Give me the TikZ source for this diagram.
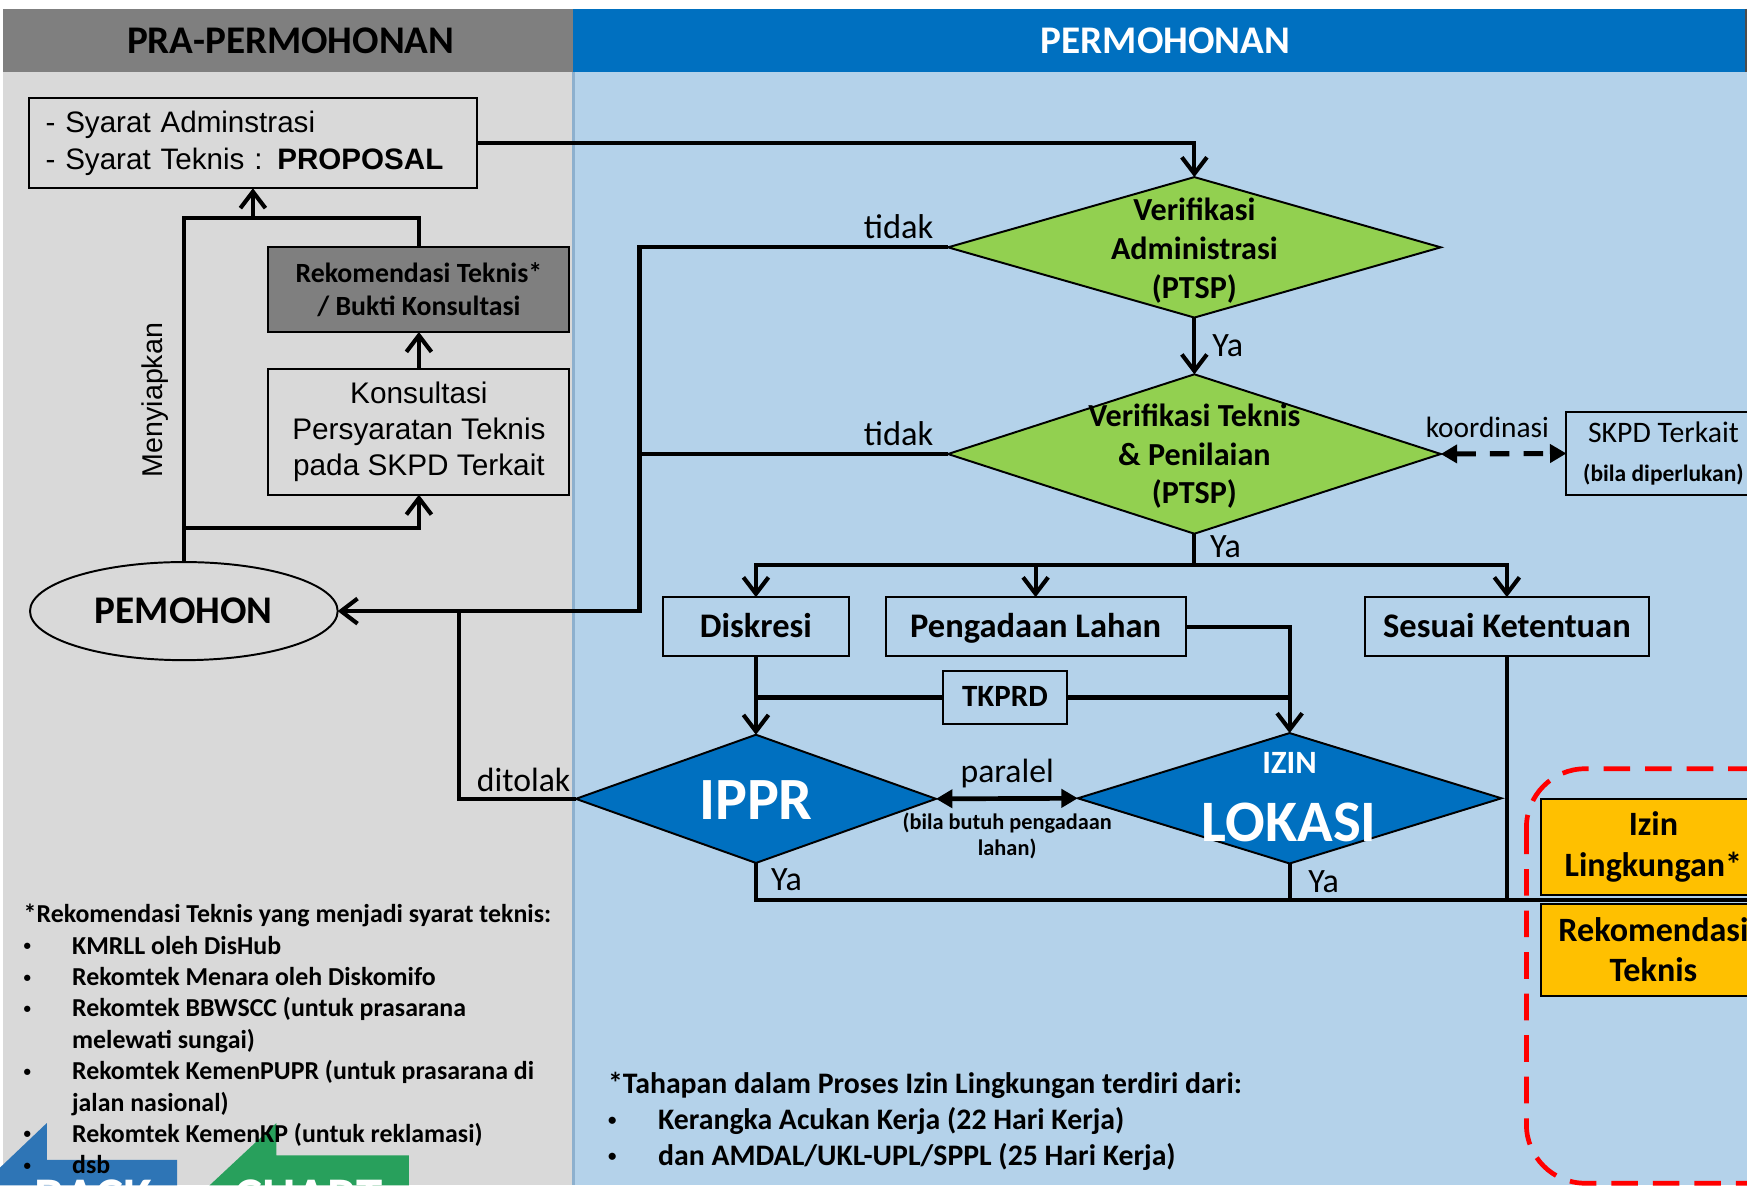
\documentclass[tikz,border=0pt]{standalone}
\usepackage{fontspec}
\setmainfont{Carlito}
\newfontfamily\arialf{Liberation Sans}
\usetikzlibrary{arrows.meta,shapes.geometric,calc}
\definecolor{hdrgray}{HTML}{7F7F7F}
\definecolor{bodygray}{HTML}{D9D9D9}
\definecolor{hdrblue}{HTML}{0070C0}
\definecolor{bodyblue}{RGB}{180,210,234}
\definecolor{edgeblue}{RGB}{141,176,206}
\definecolor{vgreen}{HTML}{92D050}
\definecolor{dblue}{HTML}{0070C0}
\definecolor{orng}{HTML}{FFC000}
\definecolor{backblue}{HTML}{2E75B6}
\definecolor{chartgreen}{RGB}{40,160,92}
\newcommand\setfs[2]{\fontsize{#1}{#2}\selectfont}
\newcommand\smbulA{{\setfs{3.8}{4}\raisebox{0.9pt}{\textbullet}}}
\newcommand\smbulB{{\setfs{4.3}{4.5}\raisebox{1pt}{\textbullet}}}
\tikzset{
  box/.style={draw=black, line width=0.5pt, rectangle, inner sep=0pt, outer sep=0pt, align=center},
  conn/.style={line width=1.05pt},
  arr/.style={conn, -{Straight Barb[length=4.2pt,width=6.4pt]}},
  parr/.style={line width=1.2pt, {Triangle[length=4.2pt,width=4.6pt]}-{Triangle[length=4.2pt,width=4.6pt]}},
  karr/.style={line width=1.3pt, dash pattern=on 5pt off 3.6pt, {Triangle[length=4.2pt,width=4.6pt]}-{Triangle[length=4.2pt,width=4.6pt]}},
  dia/.style={diamond, draw=black, line width=0.5pt, inner sep=0pt, outer sep=0pt},
  lbl/.style={inner sep=0pt, font=\setfs{8.7}{10}},
  btxt/.style={font=\bfseries\setfs{8.8}{10}, text height=7.4pt, text depth=2pt},
}
\begin{document}
\begin{tikzpicture}[x=0.01cm,y=-0.01cm]
\useasboundingbox (0,0) rectangle (1568,1064);
\clip (0,0) rectangle (1568,1064);
% backgrounds
\fill[white] (0,0) rectangle (1568,1064);
\fill[bodygray] (3,8) rectangle (514,1064);
\fill[hdrgray] (3,8) rectangle (514,65);
\fill[bodyblue] (514,8) rectangle (1568,1064);
\fill[hdrblue] (514,8) rectangle (1568,65);
\draw[edgeblue, line width=0.8pt] (514.5,65) -- (514.5,1064);
\draw[black!70, line width=0.6pt] (1567,8) -- (1567,65);
\node[font=\bfseries\setfs{10}{12}] (h1) at (261,37) {PRA-PERMOHONAN};
\node[font=\bfseries\setfs{10}{12}, text=white] (h2) at (1046,37) {PERMOHONAN};

% BACK / CHART arrows (partly visible at the lower edge)
\fill[backblue] (0,1048) -- (42,1008) -- (42,1041) -- (159,1041) -- (159,1064) -- (0,1064) -- cycle;
\fill[chartgreen] (188,1064) -- (248,1008) -- (248,1037) -- (367,1037) -- (367,1064) -- cycle;
\node[text=white, font=\bfseries\setfs{13.5}{16}, anchor=base] (back) at (84,1090) {BACK};
\node[text=white, font=\bfseries\setfs{13.5}{16}, anchor=base] (chart) at (277,1090) {CHART};

% left column
\node[box, minimum width=4.02cm, minimum height=0.81cm, text width=3.72cm, align=left, font=\arialf\setfs{7.55}{9.6}] (syarat) at (227,128.5) {- Syarat Adminstrasi\\- Syarat Teknis : \textbf{PROPOSAL}};
\node[box, fill=hdrgray, minimum width=2.70cm, minimum height=0.76cm, font=\bfseries\setfs{7.1}{8.5}] (rek) at (376,260) {Rekomendasi Teknis*\\/ Bukti Konsultasi};
\node[box, minimum width=2.70cm, minimum height=1.13cm, font=\arialf\setfs{7.6}{9.1}] (kons) at (376,387.5) {Konsultasi\\Persyaratan Teknis\\pada SKPD Terkait};
\node[ellipse, draw=black, line width=0.5pt, inner sep=0pt, outer sep=0pt, minimum width=2.76cm, minimum height=0.88cm, font=\bfseries\setfs{10}{12}] (pem) at (165,548.5) {PEMOHON};
\node[rotate=90, font=\arialf\setfs{7.3}{9}] (meny) at (139,359) {Menyiapkan};

\coordinate (mt) at (165,196);
\coordinate (mk) at (165,474);
\draw[conn] (pem.north) -- (mt) -| (rek.north);
\draw[arr] (syarat.south |- mt) -- (syarat.south);
\draw[arr] (mk) -| (kons.south);
\draw[arr] (kons.north) -- (rek.south);

% decisions
\node[dia, fill=vgreen, minimum width=4.42cm, minimum height=1.26cm] (va) at (1072,222) {};
\node[font=\bfseries\setfs{8.2}{10}, align=center] (vat) at (1072,225) {Verifikasi\\Administrasi\\(PTSP)};
\node[dia, fill=vgreen, minimum width=4.42cm, minimum height=1.43cm] (vt) at (1072,407.5) {};
\node[font=\bfseries\setfs{8.2}{9.8}, align=center] (vtt) at (1072,409.5) {Verifikasi Teknis\\\& Penilaian\\(PTSP)};

\node[box, minimum width=1.74cm, minimum height=0.74cm] (skpd) at (1493,407) {{\setfs{7.6}{8}SKPD Terkait}\\[-2pt]{\bfseries\setfs{6}{7}(bila diperlukan)}};

\draw[arr] (syarat.east) -| (va.north);
\draw[arr] (va.south) -- (vt.north);
\node[lbl] (ya1) at (1102,310) {Ya};

\coordinate (jt) at (574,548.5);
\coordinate (jd) at (412,548.5);
\draw[arr] (va.west) -| (jt) -- (pem.east);
\draw[conn] (vt.west) -- (vt.west -| jt);
\node[lbl, font=\setfs{8.8}{10}] (t1) at (806.5,203) {tidak};
\node[lbl, font=\setfs{8.8}{10}] (t2) at (806.5,389) {tidak};

\draw[karr] (vt.east) -- (skpd.west);
\node[lbl, font=\setfs{7.5}{9}] (koor) at (1335,384) {koordinasi};

% second level
\node[box, btxt, minimum width=1.67cm, minimum height=0.53cm] (disk) at (678.5,562.5) {Diskresi};
\node[box, btxt, minimum width=2.69cm, minimum height=0.53cm] (peng) at (929.5,562.5) {Pengadaan Lahan};
\node[box, btxt, minimum width=2.55cm, minimum height=0.53cm] (sesuai) at (1352.5,562.5) {Sesuai Ketentuan};
\node[box, font=\bfseries\setfs{7.9}{9}, text height=6.2pt, text depth=1.6pt, minimum width=1.12cm, minimum height=0.48cm] (tkprd) at (902,626) {TKPRD};

\coordinate (ys) at (1072,507.5);
\draw[conn] (vt.south) -- (ys);
\draw[arr] (ys) -| (disk.north);
\draw[arr] (ys) -| (peng.north);
\draw[arr] (ys) -| (sesuai.north);
\node[lbl] (ya2) at (1100,491) {Ya};

\node[dia, fill=dblue, minimum width=3.23cm, minimum height=1.15cm] (ippr) at (678.5,717) {};
\node[text=white, font=\bfseries\setfs{15.3}{18}] (ipprt) at (678.5,718) {IPPR};
\node[dia, fill=dblue, minimum width=3.8cm, minimum height=1.17cm] (lok) at (1157.5,716.5) {};
\node[text=white, font=\bfseries\setfs{8.3}{10}] (izt) at (1157.5,685) {IZIN};
\node[text=white, font=\bfseries\setfs{15}{18}] (lokt) at (1157,738) {LOKASI};

\draw[arr] (disk.south) -- (ippr.north);
\draw[arr] (peng.east) -| (lok.north);
\draw[conn] (tkprd.west) -- (tkprd.west -| disk.south);
\draw[conn] (tkprd.east) -- (tkprd.east -| lok.north);

\draw[parr] (ippr.east) -- (lok.west);
\node[lbl, font=\setfs{8.6}{10}] (par) at (904,694) {paralel};
\node[font=\bfseries\setfs{5.7}{6.7}, align=center, inner sep=0pt] (bb) at (904,750) {(bila butuh pengadaan\\lahan)};

\draw[conn] (ippr.west) -| (jd);
\node[lbl, font=\setfs{8.6}{10}] (dit) at (470,700) {ditolak};

% orange boxes
\node[box, fill=orng, minimum width=2.02cm, minimum height=0.86cm, font=\bfseries\setfs{8.7}{10.6}] (izl) at (1484,760) {Izin\\Lingkungan*};
\node[box, fill=orng, minimum width=2.02cm, minimum height=0.83cm, font=\bfseries\setfs{8.7}{10.3}] (rkt) at (1484,852.5) {Rekomendasi\\Teknis};

\coordinate (yend) at (1568,807.5);
\draw[conn] (ippr.south) |- (yend);
\draw[conn] (lok.south) -- (lok.south |- yend);
\draw[conn] (sesuai.south) -- (sesuai.south |- yend);
\node[lbl] (ya3) at (706,790) {Ya};
\node[lbl] (ya4) at (1188,791) {Ya};

\draw[red, line width=1.2pt, dash pattern=on 6.8pt off 3.8pt, rounded corners=15pt] (1370,690) rectangle (1720,1062);

% notes
\node[anchor=north west, inner sep=0pt, font=\bfseries\setfs{6.6}{8}] (n1) at (20.6,808) {%
\begin{tabular}{@{}p{0.434cm}@{}l@{}}
\multicolumn{2}{@{}l@{}}{*Rekomendasi Teknis yang menjadi syarat teknis:}\\
\smbulA & KMRLL oleh DisHub\\
\smbulA & Rekomtek Menara oleh Diskomifo\\
\smbulA & Rekomtek BBWSCC (untuk prasarana\\
 & melewati sungai)\\
\smbulA & Rekomtek KemenPUPR (untuk prasarana di\\
 & jalan nasional)\\
\smbulA & Rekomtek KemenKP (untuk reklamasi)\\
\smbulA & dsb
\end{tabular}};
\node[anchor=north west, inner sep=0pt, font=\bfseries\setfs{7.6}{9.2}] (n2) at (545,958) {%
\begin{tabular}{@{}p{0.45cm}@{}l@{}}
\multicolumn{2}{@{}l@{}}{*Tahapan dalam Proses Izin Lingkungan terdiri dari:}\\
\smbulB & Kerangka Acukan Kerja (22 Hari Kerja)\\
\smbulB & dan AMDAL/UKL-UPL/SPPL (25 Hari Kerja)
\end{tabular}};
\end{tikzpicture}
\end{document}
